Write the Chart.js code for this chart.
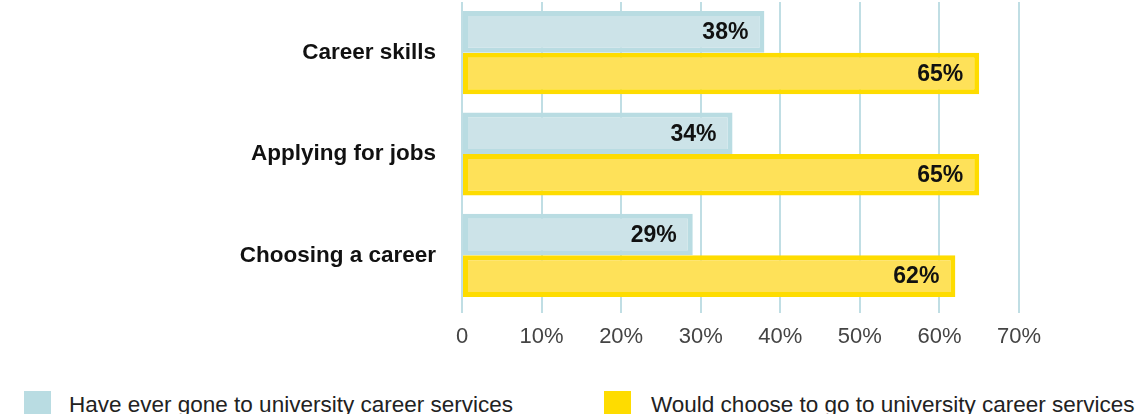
<!DOCTYPE html>
<html>
<head>
<meta charset="utf-8">
<title>University career services</title>
<script src="https://cdn.jsdelivr.net/npm/chart.js@4/dist/chart.umd.min.js"></script>
<style>
    body { margin: 0; background: #fff; overflow: hidden; font-family: "Liberation Sans", Arial, sans-serif; }
    #wrap { position: relative; width: 1141px; height: 414px; }
    #careerChart { position: absolute; left: 0; top: 0; }
    .legend-item { position: absolute; top: 391px; height: 27px; line-height: 27px; font-size: 22.5px; color: #222; white-space: nowrap; }
    .legend-box { position: absolute; top: 391px; width: 27px; height: 27px; }
</style>
</head>
<body>
<div id="wrap">
    <canvas id="careerChart" width="1141" height="370"></canvas>
    <div class="legend-box" style="left:24px;background:#b9dce2"></div>
    <div class="legend-item" style="left:69px">Have ever gone to university career services</div>
    <div class="legend-box" style="left:604px;background:#fedc00"></div>
    <div class="legend-item" style="left:651px">Would choose to go to university career services</div>
</div>
<script>
const categories = ['Career skills', 'Applying for jobs', 'Choosing a career'];
const haveGone = [38, 34, 29];
const wouldChoose = [65, 65, 62];
const xTicks = [0, 10, 20, 30, 40, 50, 60, 70];

// Value labels inside the end of each bar
const barLabels = {
    id: 'barLabels',
    afterDatasetsDraw(chart) {
        const ctx = chart.ctx;
        ctx.save();
        ctx.font = 'bold 23px "Liberation Sans", Arial, sans-serif';
        ctx.fillStyle = '#111';
        ctx.textAlign = 'right';
        ctx.textBaseline = 'middle';
        chart.data.datasets.forEach((ds, i) => {
            chart.getDatasetMeta(i).data.forEach((bar, j) => {
                ctx.fillText(ds.data[j] + '%', bar.x - 16, bar.y + 1);
            });
        });
        ctx.restore();
    }
};

const ctx = document.getElementById('careerChart').getContext('2d');
new Chart(ctx, {
    type: 'bar',
    data: {
        labels: categories,
        datasets: [{
            label: 'Have ever gone to university career services',
            data: haveGone,
            backgroundColor: '#cce3e8',
            borderColor: '#b9dce2',
            borderWidth: 5,
            borderSkipped: false
        }, {
            label: 'Would choose to go to university career services',
            data: wouldChoose,
            backgroundColor: '#fee159',
            borderColor: '#fedc00',
            borderWidth: 5,
            borderSkipped: false
        }]
    },
    options: {
        indexAxis: 'y',
        responsive: false,
        animation: false,
        categoryPercentage: 0.82,
        barPercentage: 1.0,
        layout: { padding: { top: 2, right: 122, left: 0, bottom: 0 } },
        plugins: {
            legend: { display: false },
            tooltip: { enabled: false }
        },
        scales: {
            x: {
                min: 0,
                max: 70,
                afterBuildTicks: (scale) => {
                    scale.ticks = xTicks.map(v => ({ value: v }));
                },
                afterFit: (scale) => { scale.height = 64; },
                border: { display: false },
                grid: { color: '#c0dee4', lineWidth: 2, tickLength: 7 },
                ticks: {
                    color: '#444',
                    padding: 11,
                    font: { family: '"Liberation Sans", Arial, sans-serif', size: 22 },
                    callback: (v) => v === 0 ? '0' : v + '%'
                }
            },
            y: {
                afterFit: (scale) => {
                    scale.width = 462;
                    // category labels sit inside their bands, no extra room needed
                    scale.paddingTop = 0;
                    scale.paddingBottom = 0;
                },
                border: { display: false },
                grid: { display: false, drawTicks: false },
                ticks: {
                    color: '#111',
                    padding: 26,
                    font: { family: '"Liberation Sans", Arial, sans-serif', size: 22.5, weight: 'bold' }
                }
            }
        }
    },
    plugins: [barLabels]
});
</script>
</body>
</html>
